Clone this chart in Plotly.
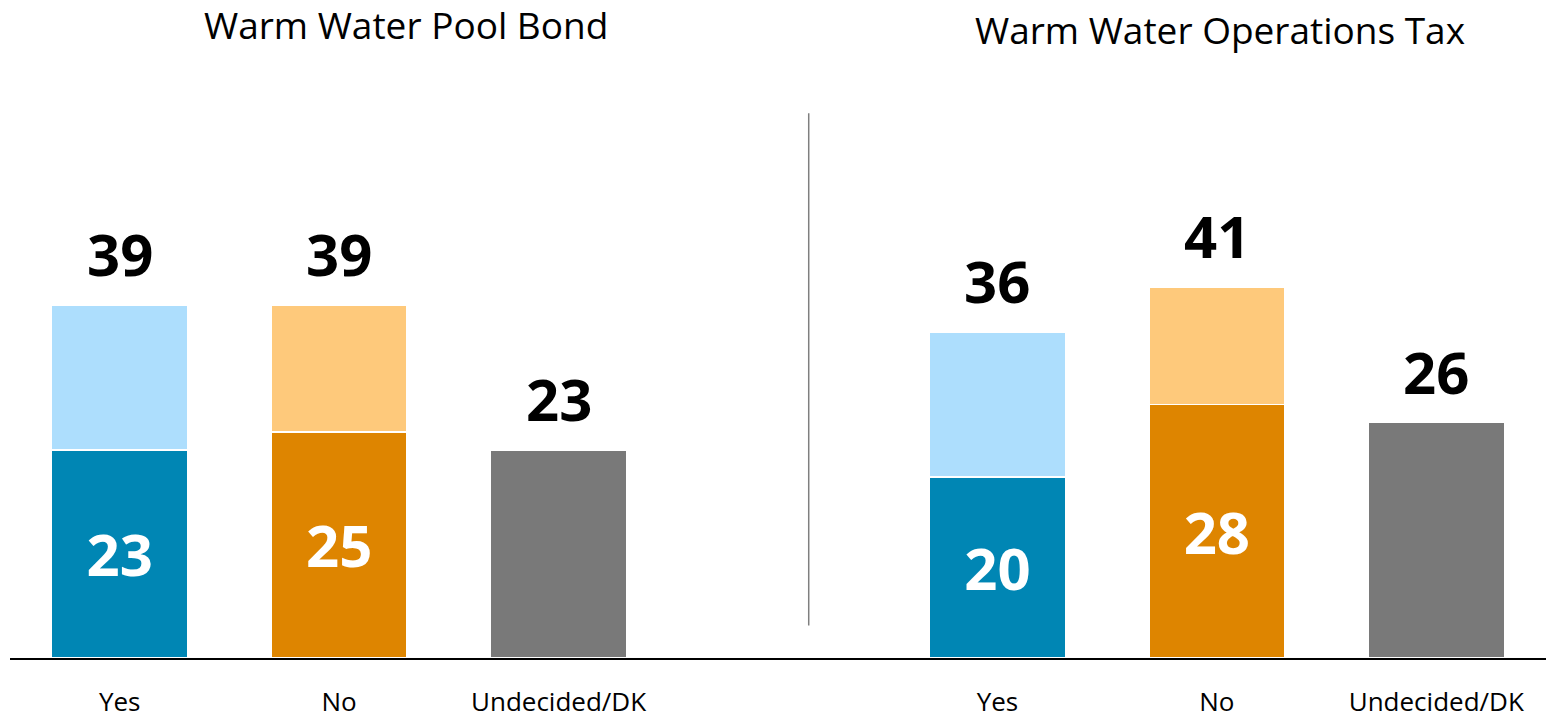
import plotly.graph_objects as go

# data
categories = ["Yes", "No", "Undecided/DK"]
x_pos = [0, 1, 2, 4, 5, 6]          # two groups, one empty slot between
tick_text = categories + categories
group_titles = ["Warm Water Pool Bond", "Warm Water Operations Tax"]

strong_vals = [23, 25, 23, 20, 28, 26]   # dark segment (Undecided shown whole)
soft_vals = [16, 14, 0, 16, 13, 0]       # light segment on top for Yes/No
totals = [39, 39, 23, 36, 41, 26]

dark_colors = ["#0086B4", "#DE8500", "#797979", "#0086B4", "#DE8500", "#797979"]
light_colors = ["#ADDEFD", "#FEC97B", "#FFFFFF", "#ADDEFD", "#FEC97B", "#FFFFFF"]
inner_text = [str(v) if c != "Undecided/DK" else "" for v, c in zip(strong_vals, tick_text)]

FONT = "Open Sans"

fig = go.Figure()
fig.add_trace(go.Bar(
    x=x_pos, y=strong_vals, width=0.62,
    marker=dict(color=dark_colors, line=dict(color="white", width=1.5)),
    text=inner_text, textposition="inside", insidetextanchor="middle",
    textfont=dict(family=FONT, size=58, color="white", weight="bold"),
    hoverinfo="skip",
))
fig.add_trace(go.Bar(
    x=x_pos, y=soft_vals, width=0.62,
    marker=dict(color=light_colors, line=dict(color="white", width=1.5)),
    hoverinfo="skip",
))

# totals above each bar
for x, t in zip(x_pos, totals):
    fig.add_annotation(x=x, y=t, text=str(t), showarrow=False, yanchor="bottom", yshift=10,
                       font=dict(family=FONT, size=58, color="black", weight="bold"))

# group titles
fig.add_annotation(x=0.258, y=1.025, xref="paper", yref="paper", xanchor="center", yanchor="middle",
                   text=group_titles[0], showarrow=False, font=dict(family=FONT, size=37, color="black"))
fig.add_annotation(x=0.788, y=1.017, xref="paper", yref="paper", xanchor="center", yanchor="middle",
                   text=group_titles[1], showarrow=False, font=dict(family=FONT, size=37, color="black"))

# divider between groups
fig.add_shape(type="line", x0=3.14, x1=3.14, y0=3.6, y1=60.2, xref="x", yref="y",
              line=dict(color="#7F7F7F", width=1.5))

fig.update_layout(
    barmode="stack",
    width=1546, height=719,
    margin=dict(l=10, r=0, t=40, b=55),
    plot_bgcolor="white", paper_bgcolor="white",
    showlegend=False,
    font=dict(family=FONT, color="black"),
)
fig.update_xaxes(range=[-0.5, 6.5], tickvals=x_pos, ticktext=tick_text, showgrid=False,
                 showline=True, linecolor="black", linewidth=1.5, ticks="",
                 tickfont=dict(family=FONT, size=26, color="black"), ticklabelstandoff=20,
                 zeroline=False)
fig.update_yaxes(range=[0, 68.3], visible=False, showgrid=False)

fig.write_html("out.html", config={"displayModeBar": False},
               post_script="document.body.style.margin='0';")
